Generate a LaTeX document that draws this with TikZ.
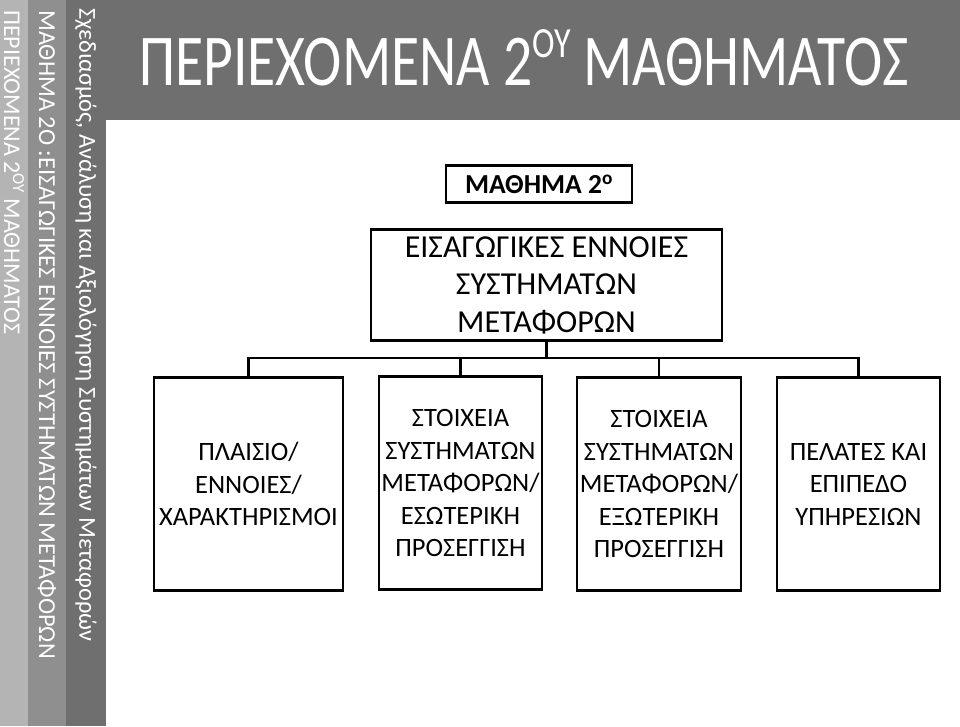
\documentclass[tikz,border=0pt]{standalone}
\usepackage{fontspec}
\setmainfont{Carlito}
\usetikzlibrary{positioning, calc}

\definecolor{bandlight}{RGB}{180,180,180}
\definecolor{bandmid}{RGB}{143,143,143}
\definecolor{banddark}{RGB}{111,111,111}

\begin{document}
\begin{tikzpicture}[
    x=1pt, y=-1pt,
    bandtext/.style={text=white, rotate=-90, anchor=west, inner sep=0pt,
                     font=\fontsize{24.4}{28}\selectfont},
    box/.style={draw, line width=2.6pt, rectangle, align=center, inner sep=2pt},
    child/.style={box, minimum height=213pt,
                  font=\fontsize{26.5}{32.5}\selectfont},
    link/.style={line width=2.6pt},
]

\useasboundingbox (0,0) rectangle (960,726);
\fill[white] (0,0) rectangle (960,726);

% =================================================================
%  SIDE BANDS AND TITLE BAR
% =================================================================
\fill[bandlight] (0,0)  rectangle (28,726);
\fill[bandmid]   (28,0) rectangle (66,726);
\fill[banddark]  (66,0) rectangle (106,726);
\fill[banddark]  (106,0) rectangle (960,120);

\node[bandtext, font=\fontsize{24}{28}\selectfont]
    (side1) at (14,10) {ΠΕΡΙΕΧΟΜΕΝΑ 2\textsuperscript{ΟΥ} ΜΑΘΗΜΑΤΟΣ};
\node[bandtext] (side2) at (47,10) {ΜΑΘΗΜΑ 2Ο :ΕΙΣΑΓΩΓΙΚΕΣ ΕΝΝΟΙΕΣ ΣΥΣΤΗΜΑΤΩΝ ΜΕΤΑΦΟΡΩΝ};
\node[bandtext] (side3) at (86,8)  {Σχεδιασμός, Ανάλυση και Αξιολόγηση Συστημάτων Μεταφορών};

\node[text=white, anchor=base, font=\fontsize{73}{80}\selectfont]
    (title) at (524,85)
    {\scalebox{0.79}[1]{ΠΕΡΙΕΧΟΜΕΝΑ 2\raisebox{28pt}{\fontsize{43}{43}\selectfont ΟΥ} ΜΑΘΗΜΑΤΟΣ}};

% =================================================================
%  TREE
% =================================================================
\node[box, minimum width=186pt, minimum height=37pt,
      font=\bfseries\fontsize{27.5}{30}\selectfont]
    (lesson) at (539,184) {ΜΑΘΗΜΑ 2\textsuperscript{ο}};

\node[box, minimum width=351pt, minimum height=111pt,
      font=\fontsize{32}{37.5}\selectfont]
    (main) at (546.5,285) {ΕΙΣΑΓΩΓΙΚΕΣ ΕΝΝΟΙΕΣ\\ΣΥΣΤΗΜΑΤΩΝ\\ΜΕΤΑΦΟΡΩΝ};

\node[child, minimum width=189pt] (frame)    at (248.5,484) {ΠΛΑΙΣΙΟ/\\ΕΝΝΟΙΕΣ/\\ΧΑΡΑΚΤΗΡΙΣΜΟΙ};
\node[child, minimum width=163pt] (internal) at (460.5,483) {ΣΤΟΙΧΕΙΑ\\ΣΥΣΤΗΜΑΤΩΝ\\ΜΕΤΑΦΟΡΩΝ/\\ΕΣΩΤΕΡΙΚΗ\\ΠΡΟΣΕΓΓΙΣΗ};
\node[child, minimum width=164pt] (external) at (659,484)   {ΣΤΟΙΧΕΙΑ\\ΣΥΣΤΗΜΑΤΩΝ\\ΜΕΤΑΦΟΡΩΝ/\\ΕΞΩΤΕΡΙΚΗ\\ΠΡΟΣΕΓΓΙΣΗ};
\node[child, minimum width=163pt] (clients)  at (858.5,484) {ΠΕΛΑΤΕΣ ΚΑΙ\\ΕΠΙΠΕΔΟ\\ΥΠΗΡΕΣΙΩΝ};

\coordinate (bar) at (0,358);

\draw[link] (main.south) -- (main.south |- bar);
\draw[link] (frame.north) -- (frame.north |- bar) -| (clients.north);
\draw[link] (internal.north) -- (internal.north |- bar);
\draw[link] (external.north) -- (external.north |- bar);

\end{tikzpicture}
\end{document}
